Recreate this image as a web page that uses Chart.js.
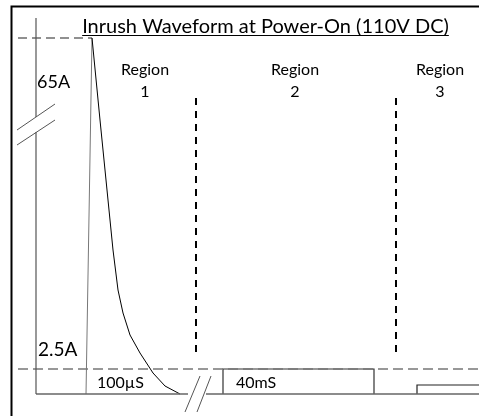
<!DOCTYPE html>
<html>
<head>
<meta charset="utf-8">
<script src="https://cdn.jsdelivr.net/npm/chart.js@4"></script>
<style>
  html, body { margin: 0; padding: 0; background: #fff; }
  #wrap { width: 479px; height: 416px; }
</style>
</head>
<body>
<div id="wrap"><canvas id="grafico"></canvas></div>
<script>
// schematic units: x = time (broken axis), y = current (broken axis)

// waveform in region 1 (rise to 65A peak then decay)
const waveX = [50, 56, 64, 70, 74, 77, 82, 87, 94, 104, 117, 129, 144];
const waveY = [0, 356, 274, 214, 174, 144, 104, 81, 59, 41, 21, 8, 0];

// region 2 plateau (40mS) and region 3 step
const region2X = [187, 187, 338, 338];
const region2Y = [0, 25, 25, 0];
const region3X = [381, 381, 443];
const region3Y = [0, 9, 9];

// current levels
const levelNames = ["65A", "2.5A"];
const levelValues = [356, 25];

// regions
const regionNames = ["1", "2", "3"];
const regionCenters = [109, 259, 404];
const dividerX = [160, 360];
const dividerTop = 296;
const dividerBottom = 38;

// durations
const durationNames = ["100\u00b5S", "40mS"];
const durationX = [61, 200];

const titleText = "Inrush Waveform at Power-On (110V DC)";

const FONT = "Lato, 'DejaVu Sans', sans-serif";

function pts(xs, ys) {
  return xs.map((x, i) => ({ x: x, y: ys[i] }));
}

function lineSet(data, color, width, dash) {
  return {
    data: data,
    borderColor: color,
    borderWidth: width,
    borderDash: dash || [],
    pointRadius: 0,
    fill: false,
    tension: 0,
    clip: false
  };
}

const datasets = [
  // outer frame
  lineSet([{ x: -24.5, y: -30 }, { x: -24.5, y: 387.5 }, { x: 450, y: 387.5 }], "#000", 2),
  // y axis, broken
  lineSet([{ x: 0, y: 376 }, { x: 0, y: 277 }], "#555", 1.2),
  lineSet([{ x: 0, y: 262 }, { x: 0, y: 0 }], "#555", 1.2),
  lineSet([{ x: -19, y: 264 }, { x: 19, y: 290 }], "#555", 1),
  lineSet([{ x: -19, y: 249 }, { x: 19, y: 274 }], "#555", 1),
  // x axis, broken
  lineSet([{ x: 0, y: 0 }, { x: 152, y: 0 }], "#666", 1.5),
  lineSet([{ x: 170, y: 0 }, { x: 450, y: 0 }], "#666", 1.5),
  lineSet([{ x: 149, y: -18 }, { x: 164, y: 18 }], "#555", 1),
  lineSet([{ x: 161, y: -18 }, { x: 175, y: 18 }], "#555", 1),
  // level guide lines
  lineSet([{ x: -18, y: levelValues[0] }, { x: 56, y: levelValues[0] }], "#222", 1.2, [9, 5]),
  lineSet([{ x: -18, y: levelValues[1] }, { x: 450, y: levelValues[1] }], "#777", 1.5, [10, 5]),
  // region dividers
  lineSet([{ x: dividerX[0], y: dividerTop }, { x: dividerX[0], y: dividerBottom }], "#000", 2, [7, 6]),
  lineSet([{ x: dividerX[1], y: dividerTop }, { x: dividerX[1], y: dividerBottom }], "#000", 2, [7, 6]),
  // region 2 and 3 levels
  lineSet(pts(region2X, region2Y), "#333", 1.2),
  lineSet(pts(region3X, region3Y), "#222", 1.2),
  // waveform
  Object.assign(lineSet(pts(waveX, waveY), "#000", 1), {
    segment: {
      borderColor: ctx => ctx.p0DataIndex === 0 ? "#777" : "#000"
    }
  })
];

// texts placed through the scales
const labelsPlugin = {
  id: "labels",
  afterDatasetsDraw(chart) {
    const c = chart.ctx;
    const xs = chart.scales.x;
    const ys = chart.scales.y;
    c.save();
    c.fillStyle = "#000";
    c.textBaseline = "alphabetic";

    // title, underlined
    c.font = "20px " + FONT;
    c.textAlign = "center";
    const tx = xs.getPixelForValue(229.5);
    const ty = ys.getPixelForValue(361);
    c.fillText(titleText, tx, ty);
    const w = c.measureText(titleText).width;
    c.strokeStyle = "#000";
    c.lineWidth = 1;
    c.beginPath();
    c.moveTo(tx - w / 2, ty + 2.5);
    c.lineTo(tx + w / 2, ty + 2.5);
    c.stroke();

    // region labels
    c.font = "16px " + FONT;
    regionNames.forEach((n, i) => {
      const x = xs.getPixelForValue(regionCenters[i]);
      c.fillText("Region", x, ys.getPixelForValue(319));
      c.fillText(n, x, ys.getPixelForValue(297));
    });

    // level labels
    c.textAlign = "left";
    c.font = "18px " + FONT;
    c.fillText(levelNames[0], xs.getPixelForValue(1), ys.getPixelForValue(306));
    c.font = "19px " + FONT;
    c.fillText(levelNames[1], xs.getPixelForValue(2), ys.getPixelForValue(38));

    // duration labels
    c.font = "16px " + FONT;
    durationNames.forEach((n, i) => {
      c.fillText(n, xs.getPixelForValue(durationX[i]), ys.getPixelForValue(6));
    });
    c.restore();
  }
};

new Chart(document.getElementById("grafico"), {
  type: "line",
  data: { datasets: datasets },
  options: {
    responsive: true,
    maintainAspectRatio: false,
    animation: false,
    layout: { padding: 0 },
    plugins: {
      legend: { display: false },
      tooltip: { enabled: false }
    },
    scales: {
      x: { type: "linear", min: -36, max: 443, display: false },
      y: { type: "linear", min: -22, max: 394, display: false }
    }
  },
  plugins: [labelsPlugin]
});
</script>
</body>
</html>
